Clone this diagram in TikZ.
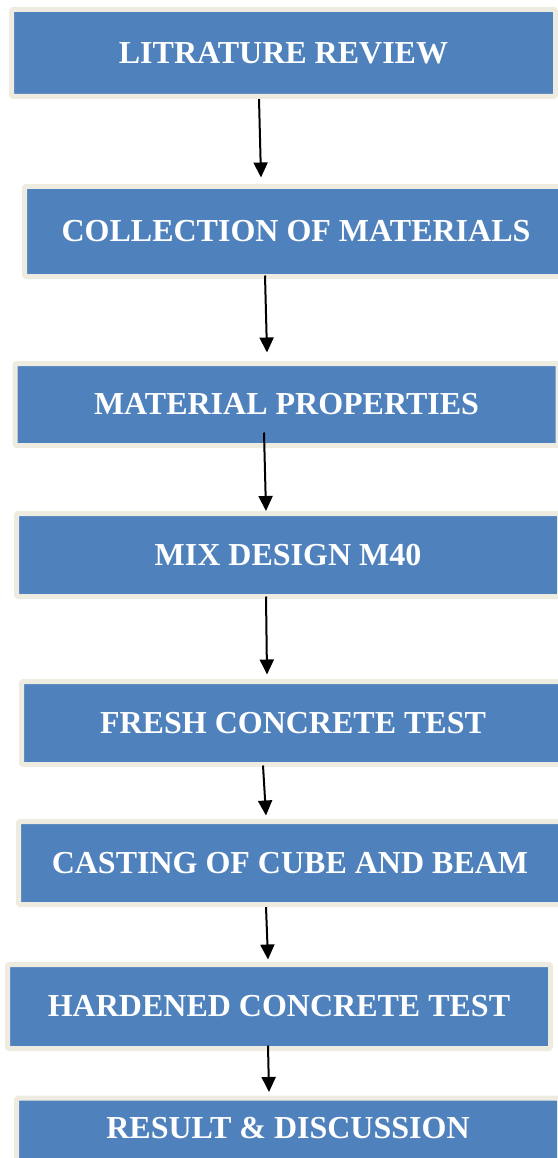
\documentclass[tikz,border=0pt]{standalone}
\usepackage{fontspec}
\setmainfont{Liberation Serif}
\usetikzlibrary{arrows.meta}

\definecolor{boxblue}{HTML}{4F81BD}
\definecolor{boxedge}{HTML}{EEECE1}

\tikzset{
  stagebox/.style={rectangle, fill=boxblue, draw=boxedge, line width=5pt,
    rounded corners=1.5pt, minimum width=543pt, text=white,
    font=\fontsize{32}{38}\selectfont\bfseries, inner sep=0pt},
  flowarrow/.style={line width=2pt, -{Triangle[width=14pt,length=15pt]}}
}

\begin{document}
\begin{tikzpicture}[x=1pt, y=-1pt]

                \useasboundingbox (0,0) rectangle (557,1158);

                \node[stagebox, minimum width=544pt, minimum height=87pt] (lit) at (283.5,53) {LITRATURE REVIEW};
                \node[stagebox, minimum height=90pt] (coll) at (296,231.5) {COLLECTION OF MATERIALS};
                \node[stagebox, minimum height=82pt] (matprop) at (286.5,404.5) {MATERIAL PROPERTIES};
                \node[stagebox, minimum height=83pt] (mix) at (288,555) {MIX DESIGN M40};
                \node[stagebox, minimum height=83pt] (fresh) at (293,723) {FRESH CONCRETE TEST};
                \node[stagebox, minimum height=83pt] (cast) at (290,863) {CASTING OF CUBE AND BEAM};
                \node[stagebox, minimum height=84pt] (hard) at (279,1006.5) {HARDENED CONCRETE TEST};
                % last box runs off the bottom edge
                \node[stagebox, anchor=north, text height=40pt, text depth=43pt] (result) at (288,1095.5) {RESULT \& DISCUSSION};

                \draw[flowarrow] ([xshift=-24.5pt]lit.south) -- ([xshift=-35pt,yshift=6.5pt]coll.north);
                \draw[flowarrow] ([xshift=-31pt,yshift=3.5pt]coll.south) -- ([xshift=-19.5pt,yshift=8.5pt]matprop.north);
                \draw[flowarrow] ([xshift=-22.5pt,yshift=15.5pt]matprop.south) -- ([xshift=-22pt]mix.north);
                \draw[flowarrow] ([xshift=-22pt,yshift=2.5pt]mix.south) -- ([xshift=-26pt,yshift=4.5pt]fresh.north);
                \draw[flowarrow] ([xshift=-30pt,yshift=1.5pt]fresh.south) -- ([xshift=-24pt,yshift=3.5pt]cast.north);
                \draw[flowarrow] ([xshift=-24pt]cast.south) -- ([xshift=-11pt,yshift=2.5pt]hard.north);
                \draw[flowarrow] ([xshift=-11pt,yshift=5.5pt]hard.south) -- ([xshift=-19pt,yshift=3.5pt]result.north);
            \end{tikzpicture}
\end{document}
